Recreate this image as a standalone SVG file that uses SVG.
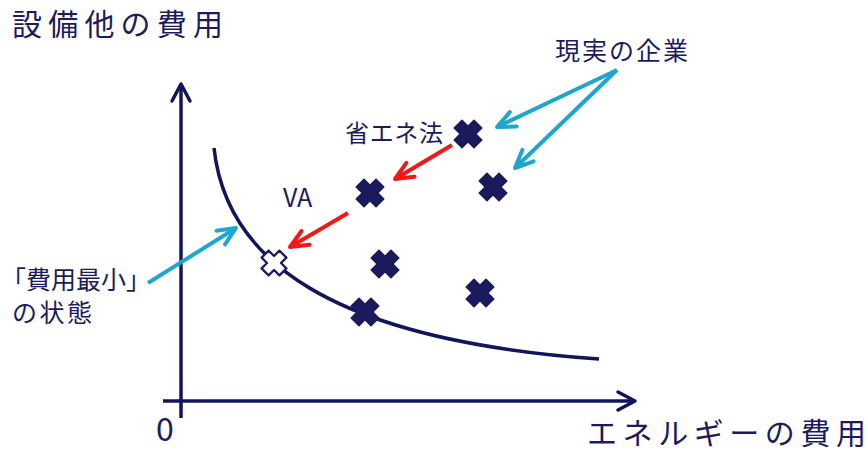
<svg xmlns="http://www.w3.org/2000/svg" width="868" height="456" viewBox="0 0 868 456">
<style>
.t{font-family:"Noto Sans CJK JP","Liberation Sans",sans-serif;fill:#1c1c5c}
.ax{stroke:#14145a;stroke-width:3.5;fill:none}
.cy{stroke:#1ea6cf;stroke-width:4;fill:none}
.rd{stroke:#f01818;stroke-width:4;fill:none}
.x{fill:#1a1a5c;stroke:#1a1a5c;stroke-width:1.5;stroke-linejoin:round}
.xw{fill:#fff;stroke:#1a1a5c;stroke-width:2.5;stroke-linejoin:round}
</style>
<defs>
<polygon id="cross" points="-5.5,-14 5.5,-14 5.5,-5.5 14,-5.5 14,5.5 5.5,5.5 5.5,14 -5.5,14 -5.5,5.5 -14,5.5 -14,-5.5 -5.5,-5.5" transform="rotate(45)"/>
<marker id="ma" viewBox="-22 -12 26 24" markerUnits="userSpaceOnUse" markerWidth="26" markerHeight="24" refX="0" refY="0" orient="auto">
<path d="M-17,-9 L0,0 L-17,9" fill="none" stroke="#14145a" stroke-width="3.5" stroke-linecap="round" stroke-linejoin="round"/>
</marker>
<marker id="mc" viewBox="-22 -12 26 24" markerUnits="userSpaceOnUse" markerWidth="26" markerHeight="24" refX="0" refY="0" orient="auto">
<path d="M-18,-8 L0,0 L-18,8" fill="none" stroke="#1ea6cf" stroke-width="4" stroke-linecap="round" stroke-linejoin="round"/>
</marker>
<marker id="mr" viewBox="-22 -12 26 24" markerUnits="userSpaceOnUse" markerWidth="26" markerHeight="24" refX="0" refY="0" orient="auto">
<path d="M-18,-8 L0,0 L-18,8" fill="none" stroke="#f01818" stroke-width="4" stroke-linecap="round" stroke-linejoin="round"/>
</marker>
</defs>
<rect width="868" height="456" fill="#fff"/>

<g id="axes">
<line class="ax" x1="181" y1="418" x2="181" y2="84" marker-end="url(#ma)"/>
<line class="ax" x1="163" y1="401" x2="635" y2="401" marker-end="url(#ma)"/>
<text class="t" x="156" y="441" font-family="Liberation Sans, sans-serif" font-size="32">0</text>
</g>

<g id="curve">
<path class="ax" d="M214,148 C226,260 330,340 599,359"/>
</g>

<g id="labels">
<text id="ylabel" class="t" x="12" y="35" font-size="30" textLength="211">設備他の費用</text>
<text id="xlabel" class="t" x="587" y="444" font-size="30" textLength="279">エネルギーの費用</text>
<text id="real" class="t" x="555" y="60" font-size="25" textLength="133">現実の企業</text>
<text id="shoene" class="t" x="345" y="142" font-size="24" textLength="98">省エネ法</text>
<text id="va" class="t" x="283" y="207" font-family="Liberation Sans, sans-serif" font-size="25">VA</text>
<text id="min1" class="t" x="1" y="289" font-size="25" textLength="150">「費用最小」</text>
<text id="min2" class="t" x="12" y="322" font-size="25" textLength="80">の状態</text>
</g>

<g id="points">
<use id="p1" href="#cross" class="x" transform="translate(468,134)"/>
<use id="p2" href="#cross" class="x" transform="translate(493,187)"/>
<use id="p3" href="#cross" class="x" transform="translate(370,193)"/>
<use id="p4" href="#cross" class="x" transform="translate(385,264)"/>
<use id="p5" href="#cross" class="x" transform="translate(480,293)"/>
<use id="p6" href="#cross" class="x" transform="translate(365,312)"/>
<use id="p0" href="#cross" class="xw" transform="translate(274,263) scale(0.9)"/>
</g>

<g id="connectors">
<line class="cy" x1="617" y1="70" x2="497" y2="127" marker-end="url(#mc)"/>
<line class="cy" x1="617" y1="70" x2="515" y2="168" marker-end="url(#mc)"/>
<line class="cy" x1="148" y1="283" x2="236" y2="228" marker-end="url(#mc)"/>
<line class="rd" x1="452" y1="145" x2="395" y2="179" marker-end="url(#mr)"/>
<line class="rd" x1="348" y1="213" x2="290" y2="247" marker-end="url(#mr)"/>
</g>
</svg>
